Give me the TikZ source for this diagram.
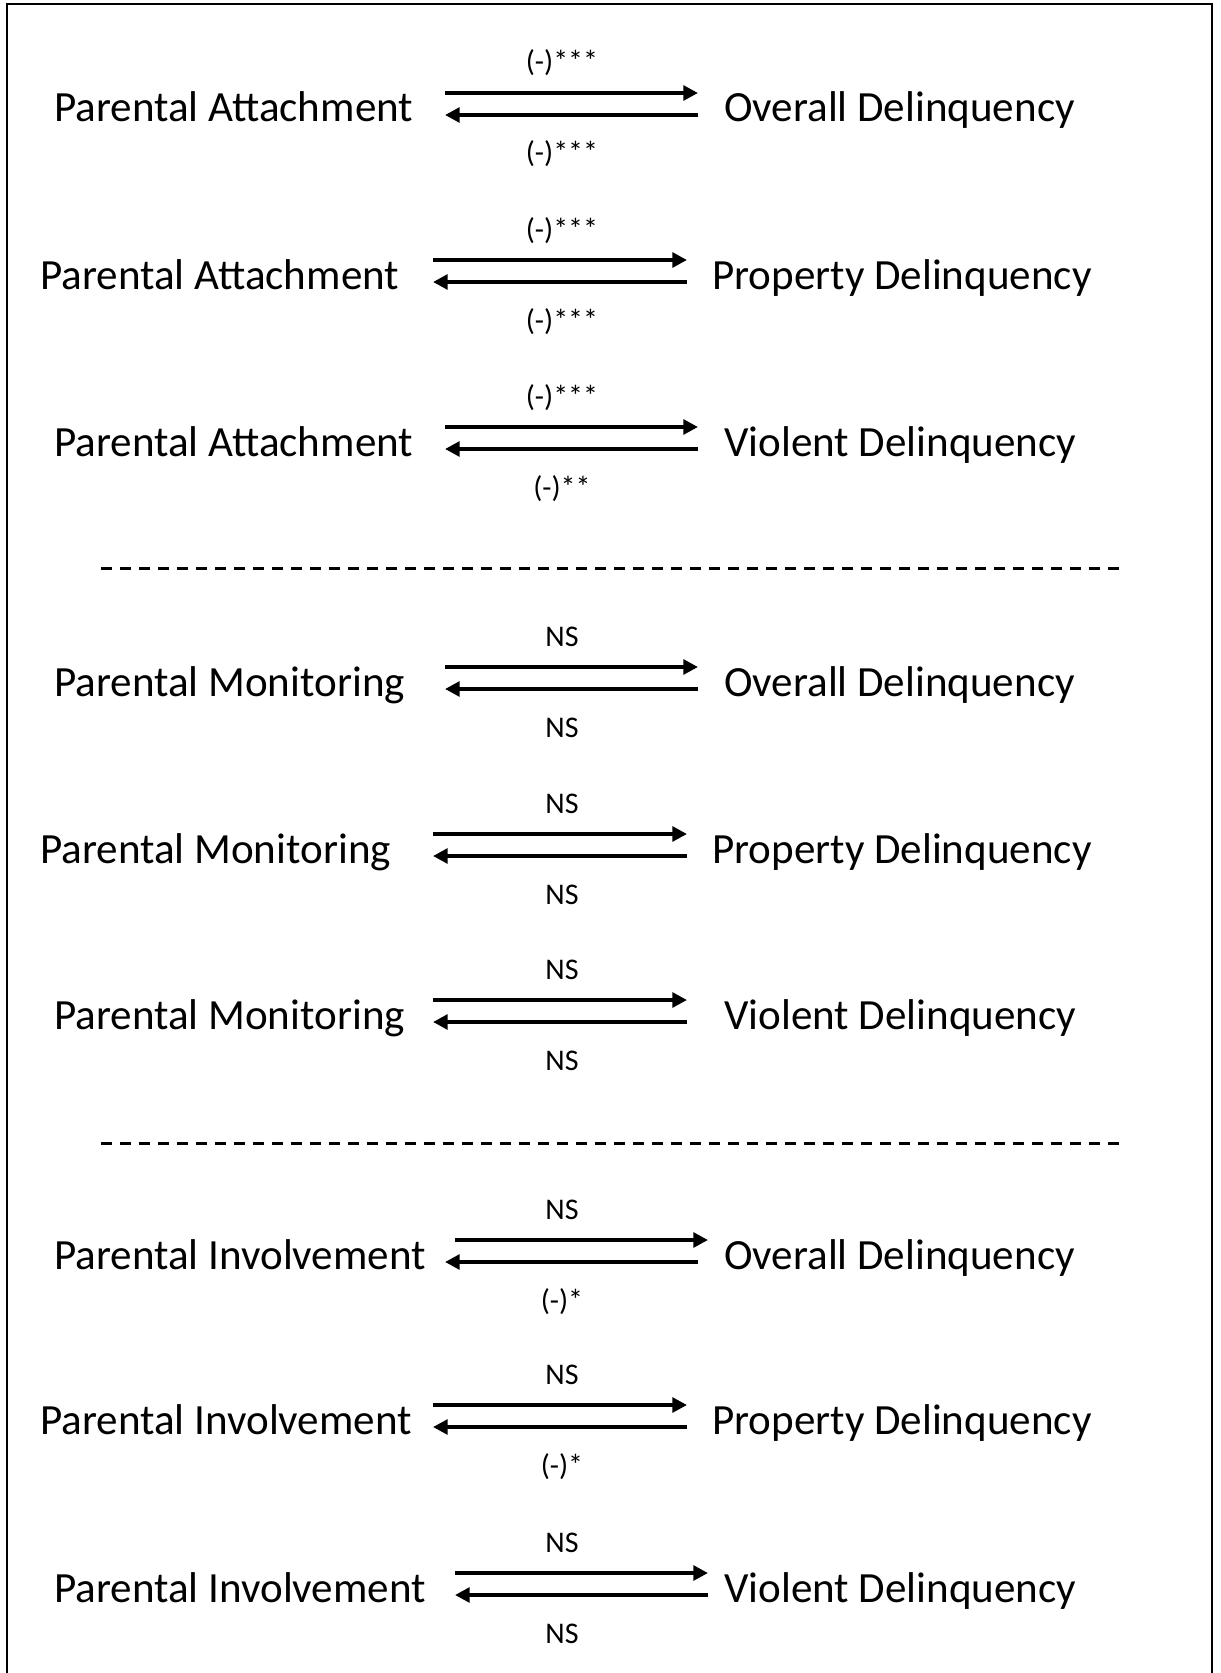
\documentclass[tikz,border=0pt]{standalone}
\usepackage{fontspec}
\setmainfont{Carlito}
\usetikzlibrary{arrows.meta}
\tikzset{
  vname/.style={anchor=base west, inner sep=0pt, font=\fontsize{32.3}{36}\selectfont},
  coef/.style={anchor=base, inner sep=0pt, font=\fontsize{22.5}{26}\selectfont},
  path/.style={line width=3pt, -{Triangle[length=11pt,width=11pt]}},
  sep/.style={line width=2.25pt, dash pattern=on 8.25pt off 6pt},
  frame/.style={line width=1.5pt}
}
\begin{document}
\begin{tikzpicture}[x=0.75pt,y=-0.75pt]
\useasboundingbox (0,0) rectangle (1220,1673);
\draw[frame] (7,1673) -- (7,4.3) -- (1212,4.3) -- (1212,1673);
\foreach \i/\T/\lx/\rx/\ta/\tb/\ba/\bb/\up/\dn/\ln/\rn in {
 1/93/54/724/445/698/445/698/{(-)***}/{(-)***}/{Parental Attachment}/{Overall Delinquency},
 2/260/40/712/433/687/433/687/{(-)***}/{(-)***}/{Parental Attachment}/{Property Delinquency},
 3/427/54/724/445/698/445/698/{(-)***}/{(-)**}/{Parental Attachment}/{Violent Delinquency},
 4/667/54/724/445/698/445/698/{NS}/{NS}/{Parental Monitoring}/{Overall Delinquency},
 5/834/40/712/433/687/433/687/{NS}/{NS}/{Parental Monitoring}/{Property Delinquency},
 6/1000/54/724/433/687/433/687/{NS}/{NS}/{Parental Monitoring}/{Violent Delinquency},
 7/1240/54/724/455/708/445/698/{NS}/{(-)*}/{Parental Involvement}/{Overall Delinquency},
 8/1405/40/712/433/687/433/687/{NS}/{(-)*}/{Parental Involvement}/{Property Delinquency},
 9/1573/54/724/455/708/455/708/{NS}/{NS}/{Parental Involvement}/{Violent Delinquency}}{
  \node[vname] (L\i) at (\lx,\T+29) {\ln};
  \node[vname] (R\i) at (\rx,\T+29) {\rn};
  \coordinate (a\i) at (\ta,\T);
  \coordinate (b\i) at (\tb,\T);
  \coordinate (c\i) at (\bb,\T+22);
  \coordinate (d\i) at (\ba,\T+22);
  \draw[path] (a\i) -- (b\i);
  \draw[path] (c\i) -- (d\i);
  \node[coef] (U\i) at (562,\T-21) {\up};
  \node[coef] (D\i) at (562,\T+70) {\dn};
}
\coordinate (s1a) at (101,568);
\coordinate (s1b) at (1122,568);
\coordinate (s2a) at (101,1143);
\coordinate (s2b) at (1122,1143);
\draw[sep] (s1a) -- (s1b);
\draw[sep] (s2a) -- (s2b);
\end{tikzpicture}
\end{document}
